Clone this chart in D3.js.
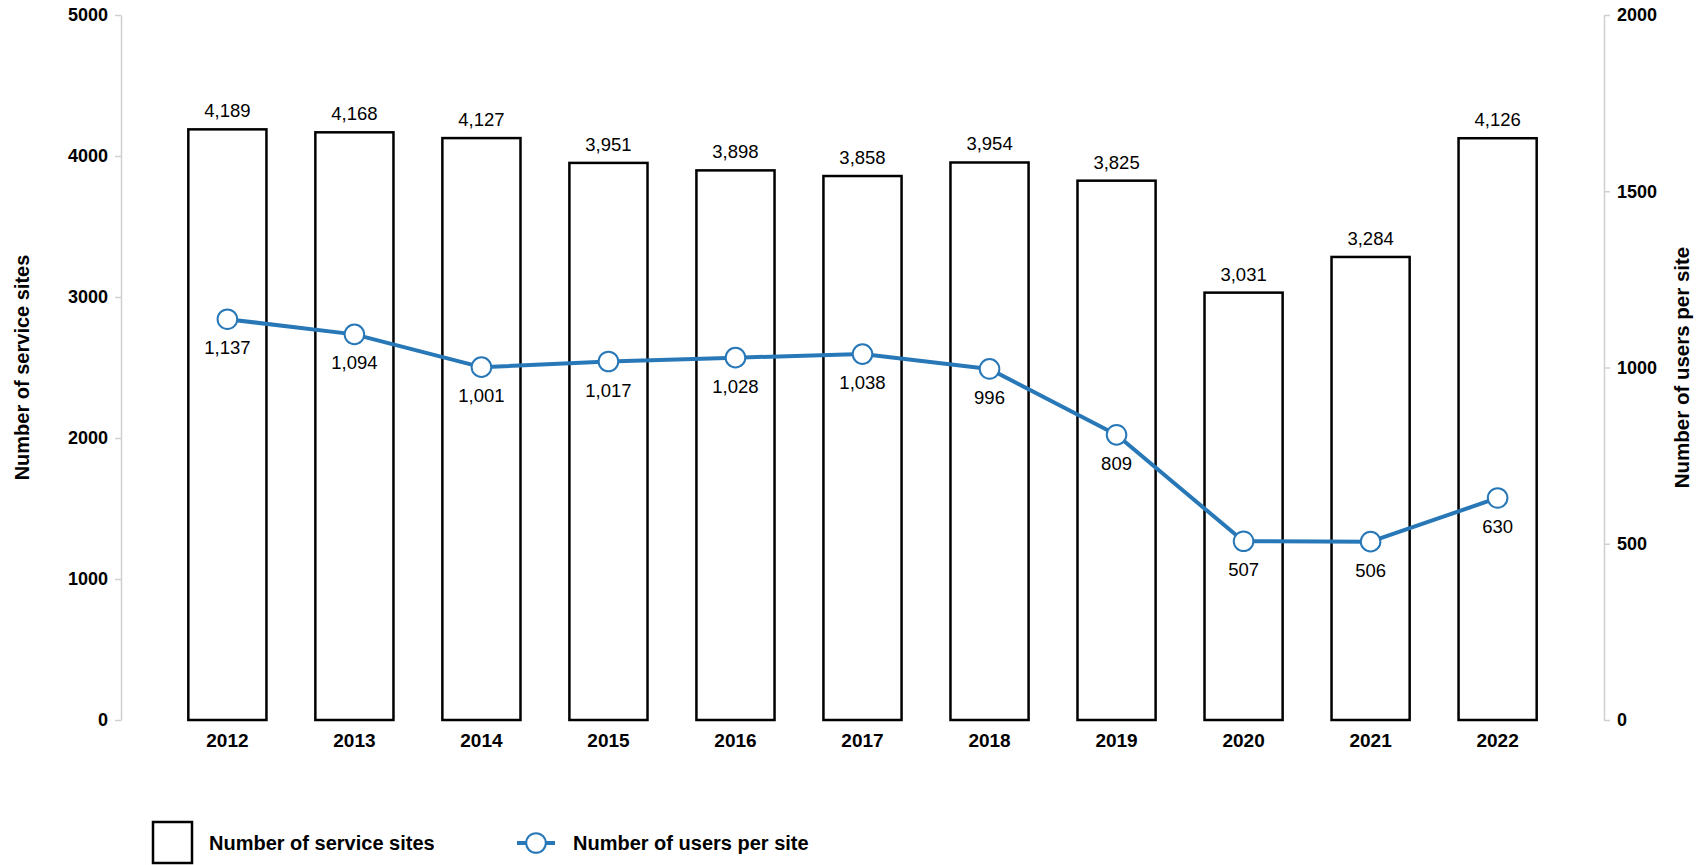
<!DOCTYPE html>
<html>
<head>
<meta charset="utf-8">
<script src="https://cdn.jsdelivr.net/npm/d3@7"></script>
<style>
  html, body { margin: 0; padding: 0; background: #fff; }
  svg { display: block; font-family: "Liberation Sans", Arial, sans-serif; }
</style>
</head>
<body>
<svg id="chart" width="1700" height="865"></svg>
<script>
// Service sites and users per site, 2012–2022
const years = ["2012", "2013", "2014", "2015", "2016", "2017", "2018", "2019", "2020", "2021", "2022"];
const serviceSites = [4189, 4168, 4127, 3951, 3898, 3858, 3954, 3825, 3031, 3284, 4126];
const usersPerSite = [1137, 1094, 1001, 1017, 1028, 1038, 996, 809, 507, 506, 630];
const leftTicks = [0, 1000, 2000, 3000, 4000, 5000];
const rightTicks = [0, 500, 1000, 1500, 2000];

const blue = "#2878b8";
const axisGrey = "#d0d0d0";

const svg = d3.select("#chart");
const plotLeft = 121, plotRight = 1604, plotTop = 15, plotBottom = 720;

const x = d3.scaleBand().domain(years).range([plotLeft, plotRight])
  .paddingInner(0.385).paddingOuter(0.53);
const yL = d3.scaleLinear().domain([0, 5000]).range([plotBottom, plotTop]);
const yR = d3.scaleLinear().domain([0, 2000]).range([plotBottom, plotTop]);
const fmt = d3.format(",");

function styleAxis(g) {
  g.select(".domain").attr("stroke", axisGrey).attr("stroke-width", 1.5);
  g.selectAll(".tick line").attr("stroke", axisGrey).attr("stroke-width", 1.5);
  g.selectAll(".tick text").attr("font-size", 18).attr("font-weight", "bold").attr("fill", "#000")
    .attr("font-family", "Liberation Sans, Arial, sans-serif");
}

// Left axis
const gL = svg.append("g").attr("transform", `translate(${plotLeft},0)`)
  .call(d3.axisLeft(yL).tickValues(leftTicks).tickSize(6).tickSizeOuter(0).tickPadding(7).tickFormat(d3.format("d")));
styleAxis(gL);

// Right axis
const gR = svg.append("g").attr("transform", `translate(${plotRight},0)`)
  .call(d3.axisRight(yR).tickValues(rightTicks).tickSize(6).tickSizeOuter(0).tickPadding(7).tickFormat(d3.format("d")));
styleAxis(gR);

// Year labels under the bars
const gX = svg.append("g").attr("transform", `translate(0,${plotBottom})`)
  .call(d3.axisBottom(x).tickSize(0).tickPadding(14));
gX.select(".domain").remove();
gX.selectAll(".tick text").attr("font-size", 19).attr("font-weight", "bold").attr("fill", "#000")
  .attr("font-family", "Liberation Sans, Arial, sans-serif");

// Axis titles
svg.append("text")
  .attr("transform", `translate(29,${(plotTop + plotBottom) / 2}) rotate(-90)`)
  .attr("text-anchor", "middle").attr("font-size", 20).attr("font-weight", "bold")
  .text("Number of service sites");
svg.append("text")
  .attr("transform", `translate(1689,${(plotTop + plotBottom) / 2}) rotate(-90)`)
  .attr("text-anchor", "middle").attr("font-size", 20.5).attr("font-weight", "bold")
  .text("Number of users per site");

// Bars
svg.append("g").selectAll("rect").data(years).join("rect")
  .attr("x", d => x(d))
  .attr("y", (d, i) => yL(serviceSites[i]))
  .attr("width", x.bandwidth())
  .attr("height", (d, i) => plotBottom - yL(serviceSites[i]))
  .attr("fill", "#fff").attr("stroke", "#000").attr("stroke-width", 2.5);

// Bar value labels
svg.append("g").selectAll("text").data(years).join("text")
  .attr("x", d => x(d) + x.bandwidth() / 2)
  .attr("y", (d, i) => yL(serviceSites[i]) - 12)
  .attr("text-anchor", "middle").attr("font-size", 18.5).attr("fill", "#000")
  .text((d, i) => fmt(serviceSites[i]));

// Users-per-site line
const cx = d => x(d) + x.bandwidth() / 2;
const line = d3.line().x(d => cx(d[0])).y(d => yR(d[1]));
const pts = years.map((y, i) => [y, usersPerSite[i]]);
svg.append("path").datum(pts)
  .attr("d", line).attr("fill", "none").attr("stroke", blue).attr("stroke-width", 4)
  .attr("stroke-linejoin", "round");
svg.append("g").selectAll("circle").data(pts).join("circle")
  .attr("cx", d => cx(d[0])).attr("cy", d => yR(d[1])).attr("r", 9.8)
  .attr("fill", "#fff").attr("stroke", blue).attr("stroke-width", 2);
svg.append("g").selectAll("text").data(pts).join("text")
  .attr("x", d => cx(d[0])).attr("y", d => yR(d[1]) + 35)
  .attr("text-anchor", "middle").attr("font-size", 18.5).attr("fill", "#000")
  .text(d => fmt(d[1]));

// Legend
const lg = svg.append("g");
lg.append("rect").attr("x", 153).attr("y", 822).attr("width", 39).attr("height", 41)
  .attr("fill", "#fff").attr("stroke", "#000").attr("stroke-width", 2.5);
lg.append("text").attr("x", 209).attr("y", 850).attr("font-size", 20).attr("font-weight", "bold")
  .text("Number of service sites");
lg.append("line").attr("x1", 517).attr("x2", 555).attr("y1", 843).attr("y2", 843)
  .attr("stroke", blue).attr("stroke-width", 4);
lg.append("circle").attr("cx", 536).attr("cy", 843).attr("r", 9.8)
  .attr("fill", "#fff").attr("stroke", blue).attr("stroke-width", 2);
lg.append("text").attr("x", 573).attr("y", 850).attr("font-size", 20).attr("font-weight", "bold")
  .text("Number of users per site");
</script>
</body>
</html>
